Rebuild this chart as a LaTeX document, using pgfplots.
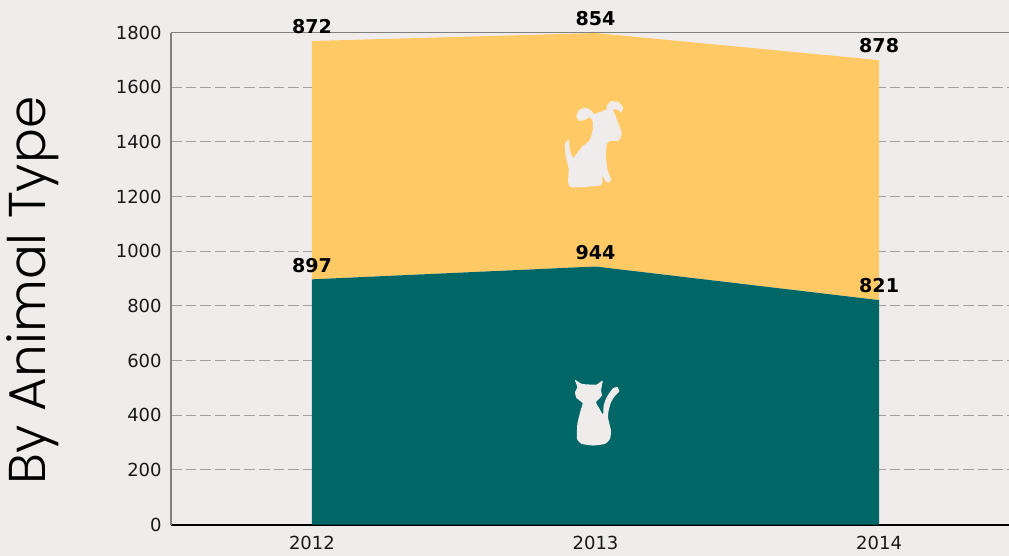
\documentclass[border=0pt]{standalone}
\usepackage{fontspec}
\usepackage{pgfplots}
\pgfplotsset{compat=1.18}
\setmainfont{DejaVu Sans}
\newfontfamily\gothic{Poppins Light}
\definecolor{bg}{HTML}{F0ECEC}
\definecolor{dogc}{HTML}{FFCA66}
\definecolor{catc}{HTML}{006666}
\definecolor{gridc}{HTML}{A3A0A0}
\begin{document}
\begin{tikzpicture}
% page is 1009x556 px, 1 px = 0.75pt; axis box starts at px (171,524.5)
\fill[bg] (-128.25pt,-23.6pt) rectangle (628.5pt,393.4pt);
\useasboundingbox (-128.25pt,-23.6pt) rectangle (628.5pt,393.4pt);
\begin{axis}[
    scale only axis,
    width=628.5pt,
    height=369pt,
    xmin=-0.497, xmax=2.458,
    ymin=0, ymax=1800,
    stack plots=y,
    clip=false,
    axis x line*=bottom,
    axis y line*=left,
    axis line style={-},
    x axis line style={black,line width=1.5pt},
    y axis line style={gray,line width=1.2pt},
    xtick={0,1,2},
    xticklabels={2012,2013,2014},
    ytick={0,200,...,1600},
    extra y ticks={1800},
    extra y tick style={grid style={gray,line width=1pt,solid}},
    tick style={draw=none},
    ymajorgrids,
    grid style={gridc,line width=0.9pt,dash pattern=on 8pt off 3pt},
    tick label style={font=\fontsize{13.5}{15}\selectfont,text=black!90},
    /pgf/number format/assume math mode=true,
    /pgf/number format/1000 sep={},
    xticklabel style={yshift=-5.5pt},
    yticklabel style={xshift=-3.5pt},
    point meta=explicit symbolic,
    nodes near coords,
    every node near coord/.style={font=\bfseries\fontsize{14.3}{16}\selectfont,text=black,anchor=center,yshift=10.6pt},
]
\addplot[fill=catc,draw=none] coordinates {(0,897)[897] (1,944)[944] (2,821)[821]} \closedcycle;
\addplot[fill=dogc,draw=none] coordinates {(0,872)[872] (1,854)[854] (2,878)[878]} \closedcycle;
\end{axis}
\node[rotate=90,font=\gothic\fontsize{38.8}{42}\selectfont,text=black] at (-103.5pt,175.5pt) {By Animal Type};
% dog icon, traced in px of the zoomed crop
\begin{scope}[shift={(261.75pt,333pt)},x=0.25pt,y=-0.25pt]
\fill[bg] plot[smooth cycle,tension=0.3] coordinates {(146,178) (135,190) (137,225) (146,265) (144,305) (150,318) (165,321) (235,316) (246,310) (248,285) (255,300) (265,306) (274,298) (263,270) (258,230) (260,192) (270,181) (295,181) (304,165) (303,150) (286,105) (279,87) (295,88) (304,97) (309,80) (295,65) (275,62) (261,74) (259,87) (230,98) (223,102) (213,89) (195,82) (177,89) (169,108) (179,121) (195,118) (208,110) (218,122) (218,150) (208,180) (185,200) (160,232) (150,210)};
\end{scope}
% cat icon
\begin{scope}[shift={(276.75pt,123pt)},x=0.25pt,y=-0.25pt]
\fill[bg] plot[smooth cycle,tension=0.3] coordinates {(105,58) (125,70) (150,72) (170,72) (188,60) (183,90) (186,105) (168,125) (176,140) (189,162) (191,135) (200,110) (218,84) (232,79) (238,92) (225,106) (213,125) (206,150) (204,172) (213,210) (210,235) (195,250) (160,255) (125,250) (111,235) (112,190) (123,145) (128,128) (109,112) (105,95) (112,80)};
\end{scope}
\end{tikzpicture}
\end{document}
